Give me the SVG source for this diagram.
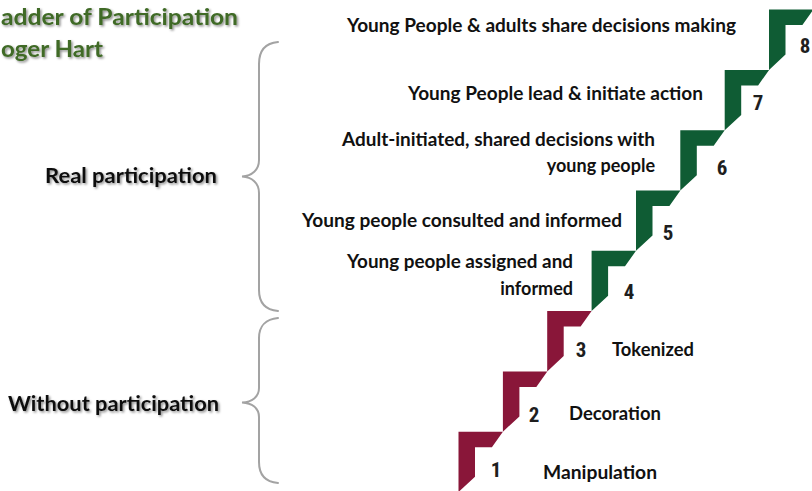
<svg xmlns="http://www.w3.org/2000/svg" width="812" height="491" viewBox="0 0 812 491">
  <style>
    .lbl { font-family: Lato, "Open Sans", "Liberation Sans", sans-serif; font-weight: 700; font-size: 18px; fill: #111; }
    .side { font-family: Lato, "Open Sans", "Liberation Sans", sans-serif; font-weight: 700; font-size: 21px; fill: #111; }
    .title { font-family: Lato, "Open Sans", "Liberation Sans", sans-serif; font-weight: 700; font-size: 23px; fill: #3f6a26; }
    .num { font-family: "Roboto Condensed", "DejaVu Sans Condensed", Roboto, "Liberation Sans", sans-serif; font-weight: 700; font-size: 21px; fill: #1e1e1e; text-anchor: middle; }
    .brace { fill: none; stroke: #a3a3a3; stroke-width: 2; stroke-linecap: round; }
    .red { fill: #891639; }
    .green { fill: #0f5c34; }
  </style>
  <defs>
    <!-- one stair tread: top bar plus riser, right edge on the climbing diagonal -->
    <path id="stair" d="M0,0 H44.4 L33.4,15.5 H16.5 V45 L0,60.3 Z"/>
    <filter id="shadow" x="-10%" y="-30%" width="120%" height="160%">
      <feDropShadow dx="1.5" dy="1.5" stdDeviation="1.3" flood-color="#000" flood-opacity="0.45"/>
    </filter>
  </defs>
  <rect width="812" height="491" fill="#fff"/>

  <!-- title, clipped at the left edge -->
  <g id="title" filter="url(#shadow)">
    <text class="title" x="1" y="25" textLength="237" lengthAdjust="spacingAndGlyphs">adder of Participation</text>
    <text class="title" x="1" y="57" textLength="102" lengthAdjust="spacingAndGlyphs">oger Hart</text>
  </g>

  <!-- group labels -->
  <g id="real-participation" filter="url(#shadow)">
    <text class="side" x="45" y="183" textLength="172" lengthAdjust="spacingAndGlyphs">Real participation</text>
  </g>
  <g id="without-participation" filter="url(#shadow)">
    <text class="side" x="8" y="411" textLength="211" lengthAdjust="spacingAndGlyphs">Without participation</text>
  </g>

  <!-- curly braces grouping the rungs -->
  <g id="connectors">
    <path class="brace" d="M278,42 C266,43 259,50 259,64 V160 C259,170 252,176 242,176.5 C252,177 259,183 259,193 V290 C259,303 266,310 278,311"/>
    <path class="brace" d="M278,318 C266,319 259,326 259,338 V388 C259,397 252,402 242,402.5 C252,403 259,408 259,417 V462 C259,475 266,482 278,483"/>
  </g>

  <!-- rungs of the ladder, bottom to top -->
  <g id="step1">
    <use href="#stair" class="red" x="458.5" y="431.7"/>
    <text class="num" x="496" y="477">1</text>
    <text class="lbl" x="543" y="479" textLength="114" lengthAdjust="spacingAndGlyphs">Manipulation</text>
  </g>
  <g id="step2">
    <use href="#stair" class="red" x="502.9" y="371.4"/>
    <text class="num" x="534" y="422">2</text>
    <text class="lbl" x="569" y="420" textLength="92" lengthAdjust="spacingAndGlyphs">Decoration</text>
  </g>
  <g id="step3">
    <use href="#stair" class="red" x="547.2" y="311.1"/>
    <text class="num" x="581" y="357">3</text>
    <text class="lbl" x="612" y="356" textLength="82" lengthAdjust="spacingAndGlyphs">Tokenized</text>
  </g>
  <g id="step4">
    <use href="#stair" class="green" x="591.6" y="250.8"/>
    <text class="num" x="629" y="299">4</text>
    <text class="lbl" x="347" y="268" textLength="226" lengthAdjust="spacingAndGlyphs">Young people assigned and</text>
    <text class="lbl" x="573" y="295" text-anchor="end">informed</text>
  </g>
  <g id="step5">
    <use href="#stair" class="green" x="636" y="190.5"/>
    <text class="num" x="668" y="240">5</text>
    <text class="lbl" x="302" y="227" textLength="320" lengthAdjust="spacingAndGlyphs">Young people consulted and informed</text>
  </g>
  <g id="step6">
    <use href="#stair" class="green" x="680.3" y="130.2"/>
    <text class="num" x="722" y="175">6</text>
    <text class="lbl" x="342" y="146" textLength="313" lengthAdjust="spacingAndGlyphs">Adult-initiated, shared decisions with</text>
    <text class="lbl" x="655" y="172" text-anchor="end">young people</text>
  </g>
  <g id="step7">
    <use href="#stair" class="green" x="724.7" y="69.9"/>
    <text class="num" x="758" y="110">7</text>
    <text class="lbl" x="408" y="100" textLength="295" lengthAdjust="spacingAndGlyphs">Young People lead &amp; initiate action</text>
  </g>
  <g id="step8">
    <use href="#stair" class="green" x="769" y="9.6"/>
    <text class="num" x="805" y="53">8</text>
    <text class="lbl" x="347" y="32" textLength="389" lengthAdjust="spacingAndGlyphs">Young People &amp; adults share decisions making</text>
  </g>
</svg>
